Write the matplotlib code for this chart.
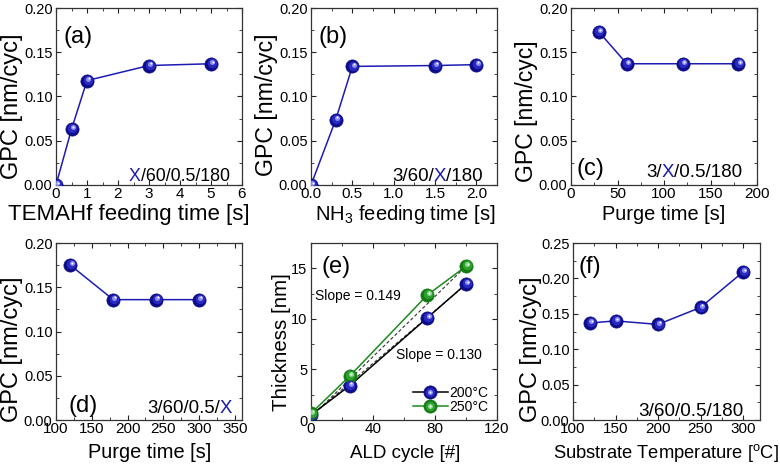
import matplotlib
matplotlib.use("Agg")
import matplotlib.pyplot as plt
from matplotlib.transforms import ScaledTranslation
from matplotlib.legend_handler import HandlerTuple
import numpy as np

plt.rcParams['font.family'] = ['Liberation Sans', 'DejaVu Sans']
plt.rcParams['mathtext.fontset'] = 'custom'
plt.rcParams['mathtext.rm'] = 'Liberation Sans'
plt.rcParams['mathtext.it'] = 'Liberation Sans:italic'
plt.rcParams['mathtext.bf'] = 'Liberation Sans:bold'

# ---------------- data ----------------
a_x = [0, 0.5, 1, 3, 5]
a_y = [0.0, 0.063, 0.118, 0.135, 0.137]

b_x = [0, 0.3, 0.5, 1.5, 2.0]
b_y = [0.0, 0.074, 0.134, 0.135, 0.136]

c_x = [30, 60, 120, 180]
c_y = [0.173, 0.137, 0.137, 0.137]

d_x = [120, 180, 240, 300]
d_y = [0.175, 0.136, 0.136, 0.136]

e_x = [0, 25, 75, 100]
e_y200 = [0.5, 3.4, 10.1, 13.45]
e_y250 = [0.65, 4.35, 12.35, 15.2]
e_slopes = [0.130, 0.149]
e_intercepts = [0.4, 0.3]
e_labels = ['200°C', '250°C']

f_x = [120, 150, 200, 250, 300]
f_y = [0.137, 0.140, 0.135, 0.159, 0.209]

BLUE_LINE = '#1c1cb4'
BLUE_TXT = '#1a1aa8'
GREEN_LINE = '#1a8a1a'

W, H = 780, 465
fig = plt.figure(figsize=(W / 100, H / 100), dpi=100)


def add_ax(left, top, right, bottom):
    return fig.add_axes([left / W, 1 - bottom / H, (right - left) / W, (bottom - top) / H])


def style(ax, xl, yl, xl_size, yl_size, xl_pos, yl_pos):
    ax.tick_params(which='both', direction='in', top=True, right=True,
                   colors='#222222', labelcolor='black')
    ax.tick_params(axis='x', labelsize=11, pad=1.5)
    ax.tick_params(axis='y', labelsize=10.5, pad=2.5)
    ax.tick_params(which='major', length=3.5, width=0.8)
    ax.tick_params(which='minor', length=2, width=0.6)
    for s in ax.spines.values():
        s.set_linewidth(0.9)
        s.set_color('#333333')
    ax.set_xlabel(xl, fontsize=xl_size)
    ax.set_ylabel(yl, fontsize=yl_size)
    ax.xaxis.set_label_coords(*xl_pos)
    ax.xaxis.label.set_verticalalignment('baseline')
    ax.yaxis.set_label_coords(*yl_pos)
    ax.yaxis.label.set_verticalalignment('baseline')


def sphere(ax, x, y, line_color, base, mid, light, ms=9.5, lw=1.1, label=None):
    ln, = ax.plot(x, y, '-', color=line_color, lw=lw, marker='o', ms=ms,
                  mfc=base, mec=base, mew=0.5, label=label, zorder=3)
    handles = [ln]
    layers = [(mid, 0.72, 0.4, 0.6), (light, 0.38, 0.9, 1.3), ('#f4f4ff', 0.16, 1.1, 1.6)]
    for col, frac, dx, dy in layers:
        tr = ax.transData + ScaledTranslation(dx / 72, dy / 72, fig.dpi_scale_trans)
        h, = ax.plot(x, y, 'o', ms=ms * frac, mfc=col, mec='none', transform=tr, zorder=4)
        handles.append(h)
    return handles


def sphere_blue(ax, x, y, **kw):
    return sphere(ax, x, y, BLUE_LINE, '#0c0c8a', '#2a2ac0', '#8c8cf0', **kw)


def colored_text(ax, x, y, parts, size=13.5):
    # draw parts right-to-left, right aligned at (x, y) baseline
    prev = None
    for txt, col in reversed(parts):
        if prev is None:
            prev = ax.text(x, y, txt, color=col, fontsize=size, ha='right', va='baseline',
                           transform=ax.transAxes)
        else:
            prev = ax.annotate(txt, xy=(0, 0), xycoords=prev, color=col, fontsize=size,
                               ha='right', va='bottom')


def panel_label(ax, x, y, s):
    ax.text(x, y, s, transform=ax.transAxes, fontsize=17, va='baseline', ha='left')


K = 'black'
BX = BLUE_TXT


def gpc_y(ax, top=0.20):
    ax.set_ylim(0, top)
    ax.set_yticks(np.arange(0, top + 0.001, 0.05))
    ax.set_yticks(np.arange(0.025, top, 0.05), minor=True)
    ax.set_yticklabels(['%.2f' % v for v in np.arange(0, top + 0.001, 0.05)])


TOP_XL = -0.2
BOT_XL = -0.215

# ---------- (a) ----------
ax = add_ax(56, 8, 242, 185)
sphere_blue(ax, a_x, a_y)
ax.set_xlim(0, 6)
ax.set_xticks(np.arange(0, 7, 1))
ax.set_xticks(np.arange(0.5, 6, 1), minor=True)
gpc_y(ax)
style(ax, 'TEMAHf feeding time [s]', 'GPC [nm/cyc]', 16, 17,
      (0.39, TOP_XL), (-0.204, 0.446))
panel_label(ax, 0.043, 0.80, '(a)')
colored_text(ax, 0.935, 0.02, [('X', BX), ('/60/0.5/180', K)], size=12.8)

# ---------- (b) ----------
ax = add_ax(311, 8, 497, 185)
sphere_blue(ax, b_x, b_y)
ax.set_xlim(0, 2.25)
ax.set_xticks(np.arange(0, 2.01, 0.5))
ax.set_xticks(np.arange(0.25, 2.3, 0.5), minor=True)
ax.set_xticklabels(['0.0', '0.5', '1.0', '1.5', '2.0'])
gpc_y(ax)
style(ax, 'NH$_3$ feeding time [s]', 'GPC [nm/cyc]', 14.5, 16.7,
      (0.505, TOP_XL), (-0.203, 0.452))
panel_label(ax, 0.039, 0.80, '(b)')
colored_text(ax, 0.925, 0.02, [('3/60/', K), ('X', BX), ('/180', K)])

# ---------- (c) ----------
ax = add_ax(571, 8, 757, 185)
sphere_blue(ax, c_x, c_y)
ax.set_xlim(0, 200)
ax.set_xticks(np.arange(0, 201, 50))
ax.set_xticks(np.arange(25, 200, 50), minor=True)
gpc_y(ax)
style(ax, 'Purge time [s]', 'GPC [nm/cyc]', 14.4, 16.6,
      (0.498, TOP_XL), (-0.203, 0.418))
panel_label(ax, 0.032, 0.056, '(c)')
colored_text(ax, 0.92, 0.047, [('3/', K), ('X', BX), ('/0.5/180', K)])

# ---------- (d) ----------
ax = add_ax(56, 243, 242, 420)
sphere_blue(ax, d_x, d_y)
ax.set_xlim(100, 360)
ax.set_xticks(np.arange(100, 351, 50))
ax.set_xticks(np.arange(125, 360, 50), minor=True)
gpc_y(ax)
style(ax, 'Purge time [s]', 'GPC [nm/cyc]', 14.4, 17,
      (0.503, BOT_XL), (-0.204, 0.40))
panel_label(ax, 0.066, 0.047, '(d)')
colored_text(ax, 0.946, 0.038, [('3/60/0.5/', K), ('X', BX)], size=13.4)

# ---------- (e) ----------
ax = add_ax(311, 243, 497, 420)
fit_x = np.array([0, 100])
for s, b in zip(e_slopes, e_intercepts):
    ax.plot(fit_x, s * fit_x + b, '--', color='#333333', lw=0.8, dashes=(3, 2), zorder=2)
h200 = sphere(ax, e_x, e_y200, 'black', '#0c0c8a', '#2a2ac0', '#8c8cf0', lw=1.1)
h250 = sphere(ax, e_x, e_y250, GREEN_LINE, '#137a13', '#2ea02e', '#8ad88a', lw=1.1)
ax.set_xlim(0, 120)
ax.set_ylim(0, 17.5)
ax.set_xticks(np.arange(0, 121, 40))
ax.set_xticks(np.arange(20, 120, 40), minor=True)
ax.set_yticks(np.arange(0, 16, 5))
ax.set_yticks(np.arange(2.5, 17.5, 5), minor=True)
style(ax, 'ALD cycle [#]', 'Thickness [nm]', 13.5, 14.8,
      (0.505, BOT_XL), (-0.131, 0.438))
panel_label(ax, 0.057, 0.829, '(e)')
ax.text(0.022, 0.68, 'Slope = %.3f' % e_slopes[1], transform=ax.transAxes,
        fontsize=10, va='baseline')
ax.text(0.455, 0.345, 'Slope = %.3f' % e_slopes[0], transform=ax.transAxes,
        fontsize=10, va='baseline')
leg = ax.legend([tuple(h200), tuple(h250)], e_labels, loc='lower right', frameon=False,
                fontsize=10, handlelength=2.5, handletextpad=0.15, labelspacing=0.0,
                borderaxespad=0, borderpad=0, bbox_to_anchor=(0.955, 0.035),
                handler_map={tuple: HandlerTuple(ndivide=1, pad=0)})

# ---------- (f) ----------
ax = add_ax(573, 243, 760, 420)
sphere_blue(ax, f_x, f_y)
ax.set_xlim(100, 320)
ax.set_xticks(np.arange(100, 301, 50))
ax.set_xticks(np.arange(125, 320, 50), minor=True)
gpc_y(ax, 0.25)
style(ax, 'Substrate Temperature [$^{\\mathrm{o}}$C]', 'GPC [nm/cyc]', 13.2, 17,
      (0.50, BOT_XL), (-0.194, 0.398))
panel_label(ax, 0.027, 0.832, '(f)')
colored_text(ax, 0.91, 0.02, [('3/60/0.5/180', K)], size=13.6)

fig.savefig('out.png', dpi=100)
